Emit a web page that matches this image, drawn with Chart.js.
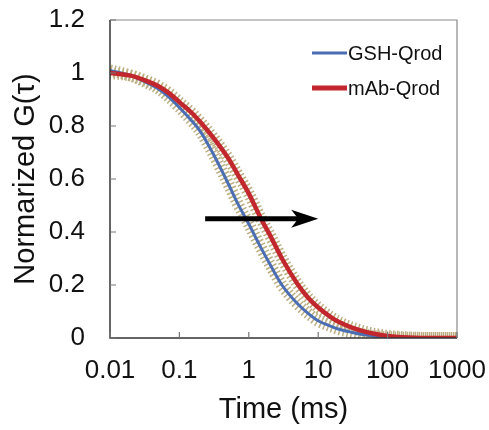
<!DOCTYPE html>
<html>
<head>
<meta charset="utf-8">
<script src="https://cdn.jsdelivr.net/npm/chart.js@4.4.1/dist/chart.umd.min.js"></script>
<style>
  html, body { margin: 0; padding: 0; background: #fff; }
  #wrap { width: 489px; height: 430px; }
</style>
</head>
<body>
<div id="wrap"><canvas id="fcsChart" width="489" height="430"></canvas></div>
<script>
// 数据
const times = [0.01, 0.02, 0.03, 0.05, 0.07, 0.1, 0.15, 0.2, 0.3, 0.5, 0.7, 1, 1.5, 2, 3, 5, 7, 10, 15, 20, 30, 50, 70, 100, 200, 500, 1000];
const gshValues = [1.01, 0.99, 0.97, 0.94, 0.91, 0.87, 0.82, 0.78, 0.70, 0.585, 0.505, 0.43, 0.34, 0.28, 0.20, 0.13, 0.095, 0.065, 0.045, 0.033, 0.022, 0.011, 0.006, 0.003, 0.001, 0, 0];
const mabValues = [1.00, 0.99, 0.975, 0.95, 0.925, 0.89, 0.85, 0.815, 0.76, 0.68, 0.615, 0.545, 0.45, 0.39, 0.30, 0.205, 0.155, 0.115, 0.08, 0.06, 0.04, 0.022, 0.014, 0.008, 0.002, 0, 0];
const seriesNames = ['GSH-Qrod', 'mAb-Qrod'];
const seriesColors = ['#4a6db3', '#c1272d'];
const errorColor = '#bcae82';
const xTickValues = [0.01, 0.1, 1, 10, 100, 1000];

// 箭头 (右移)
const arrowLevel = 0.45;
const arrowFrom = 0.235;
const arrowTo = 10;

const FONT = "'Liberation Sans', Arial, sans-serif";

function toPoints(vals) {
    return times.map((t, i) => ({ x: t, y: vals[i] }));
}

// 去掉标签自动留白, 用 layout.padding 控制绘图区
function noLabelPadding(scale) {
    scale.paddingTop = 0;
    scale.paddingBottom = 0;
    scale.paddingLeft = 0;
    scale.paddingRight = 0;
}

// 图例、箭头、刻度线和边框
const decorPlugin = {
    id: 'decor',
    afterDatasetsDraw(chart) {
        const ctx = chart.ctx;
        const a = chart.chartArea;
        const xs = chart.scales.x;
        const ys = chart.scales.y;
        ctx.save();

        // 边框
        ctx.strokeStyle = '#8a8a8a';
        ctx.lineWidth = 1.2;
        ctx.beginPath();
        ctx.moveTo(a.left, a.top);
        ctx.lineTo(a.right, a.top);
        ctx.lineTo(a.right, a.bottom);
        ctx.stroke();
        ctx.strokeStyle = '#333';
        ctx.lineWidth = 1.5;
        ctx.beginPath();
        ctx.moveTo(a.left, a.top);
        ctx.lineTo(a.left, a.bottom);
        ctx.lineTo(a.right, a.bottom);
        ctx.stroke();

        // 刻度线 (向内)
        ctx.strokeStyle = '#777';
        ctx.lineWidth = 1.2;
        ctx.beginPath();
        ys.ticks.forEach(t => {
            const y = ys.getPixelForValue(t.value);
            ctx.moveTo(a.left, y);
            ctx.lineTo(a.left + 6, y);
        });
        xs.ticks.forEach(t => {
            const x = xs.getPixelForValue(t.value);
            ctx.moveTo(x, a.bottom);
            ctx.lineTo(x, a.bottom - 6);
        });
        ctx.stroke();

        // 箭头
        const y = ys.getPixelForValue(arrowLevel);
        const x0 = xs.getPixelForValue(arrowFrom);
        const x1 = xs.getPixelForValue(arrowTo);
        ctx.strokeStyle = '#000';
        ctx.fillStyle = '#000';
        ctx.lineWidth = 5;
        ctx.beginPath();
        ctx.moveTo(x0, y);
        ctx.lineTo(x1 - 20, y);
        ctx.stroke();
        ctx.beginPath();
        ctx.moveTo(x1, y);
        ctx.lineTo(x1 - 27, y - 9);
        ctx.lineTo(x1 - 20, y);
        ctx.lineTo(x1 - 27, y + 9);
        ctx.closePath();
        ctx.fill();

        // 图例
        const lx = a.left + 202;
        const rows = [a.top + 33, a.top + 68];
        const widths = [3, 5];
        ctx.font = '20px ' + FONT;
        ctx.textBaseline = 'middle';
        ctx.textAlign = 'left';
        rows.forEach((ry, i) => {
            ctx.strokeStyle = seriesColors[i];
            ctx.lineWidth = widths[i];
            ctx.beginPath();
            ctx.moveTo(lx, ry);
            ctx.lineTo(lx + 35, ry);
            ctx.stroke();
            ctx.fillStyle = '#111';
            ctx.fillText(seriesNames[i], lx + 36, ry + 1);
        });
        ctx.restore();
    }
};

const ctx = document.getElementById('fcsChart');
new Chart(ctx.getContext('2d'), {
    type: 'line',
    data: {
        datasets: [
            {
                label: 'err-gsh',
                data: toPoints(gshValues),
                borderColor: errorColor,
                borderWidth: 12,
                borderDash: [1.5, 2.5],
                pointRadius: 0,
                cubicInterpolationMode: 'monotone',
                order: 4
            },
            {
                label: 'err-mab',
                data: toPoints(mabValues),
                borderColor: errorColor,
                borderWidth: 12,
                borderDash: [1.5, 2.5],
                pointRadius: 0,
                cubicInterpolationMode: 'monotone',
                order: 3
            },
            {
                label: seriesNames[0],
                data: toPoints(gshValues),
                borderColor: seriesColors[0],
                borderWidth: 3,
                pointRadius: 0,
                cubicInterpolationMode: 'monotone',
                order: 2
            },
            {
                label: seriesNames[1],
                data: toPoints(mabValues),
                borderColor: seriesColors[1],
                borderWidth: 4.5,
                pointRadius: 0,
                cubicInterpolationMode: 'monotone',
                order: 1
            }
        ]
    },
    options: {
        responsive: false,
        animation: false,
        layout: { padding: { left: 0, right: 32, top: 20, bottom: 0 } },
        plugins: {
            legend: { display: false },
            tooltip: { enabled: false }
        },
        scales: {
            x: {
                type: 'logarithmic',
                min: 0.01,
                max: 1000,
                afterBuildTicks(scale) {
                    scale.ticks = xTickValues.map(v => ({ value: v }));
                },
                afterFit(scale) {
                    scale.height = 92;
                    noLabelPadding(scale);
                },
                grid: { display: false, drawTicks: false },
                border: { display: false },
                ticks: {
                    padding: 17,
                    color: '#111',
                    font: { family: FONT, size: 26 },
                    maxRotation: 0,
                    autoSkip: false,
                    callback: v => String(v)
                },
                title: {
                    display: true,
                    text: 'Time (ms)',
                    color: '#111',
                    font: { family: FONT, size: 29 },
                    padding: { top: 0, bottom: 3 }
                }
            },
            y: {
                min: 0,
                max: 1.2,
                afterFit(scale) {
                    scale.width = 110;
                    noLabelPadding(scale);
                },
                grid: { display: false, drawTicks: false },
                border: { display: false },
                ticks: {
                    stepSize: 0.2,
                    padding: 25,
                    color: '#111',
                    font: { family: FONT, size: 26 },
                    callback: v => String(+v.toFixed(1))
                },
                title: {
                    display: true,
                    text: 'Normarized G(τ)',
                    color: '#111',
                    font: { family: FONT, size: 29 },
                    padding: { top: 9, bottom: 0 }
                }
            }
        }
    },
    plugins: [decorPlugin]
});
</script>
</body>
</html>
